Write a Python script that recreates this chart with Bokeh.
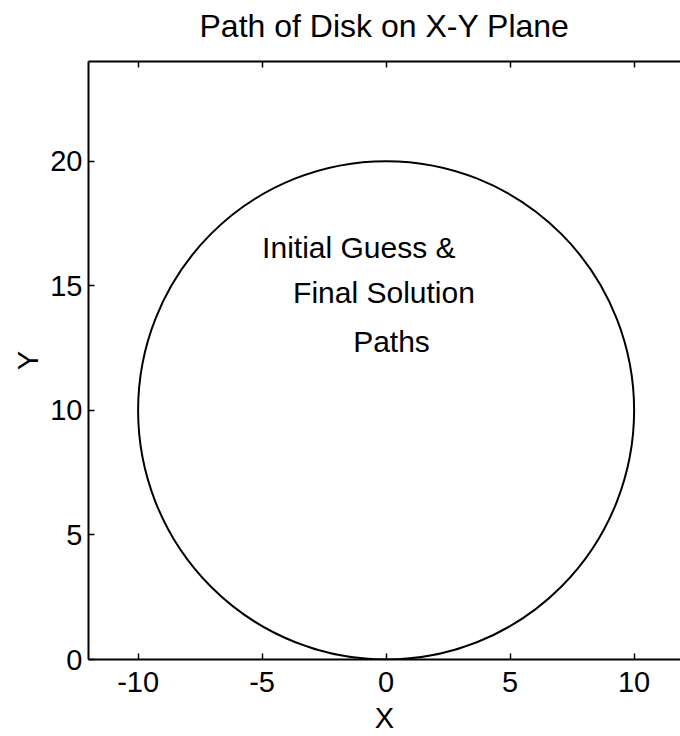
from bokeh.plotting import figure
from bokeh.models import Range1d, LinearAxis, FixedTicker, ColumnDataSource
from bokeh.core.properties import value
from bokeh.embed import file_html
from bokeh.resources import INLINE

FONT = "Liberation Sans"

# data
title_text = "Path of Disk on X-Y Plane"
circle_cx = [0.0]
circle_cy = [10.0]
circle_diam = [20.0]

x_ticks = [-10, -5, 0, 5, 10]
y_ticks = [0, 5, 10, 15, 20]
x_tick_labels = ["-10", "-5", "0", "5", "10"]
y_tick_labels = ["0", "5", "10", "15", "20"]

note_text = ["Initial Guess &", "Final Solution", "Paths"]
note_x = [-5.0, -3.75, -1.33]
note_y = [16.55, 14.74, 12.78]

p = figure(width=680, height=736, output_backend="svg", toolbar_location=None,
           x_range=Range1d(-12, 11.87), y_range=Range1d(0, 24),
           x_axis_location=None, y_axis_location=None,
           min_border_left=88, min_border_right=0, min_border_top=61, min_border_bottom=76)
p.outline_line_color = None
p.grid.visible = False
p.background_fill_color = "white"
p.border_fill_color = "white"


def style_axis(ax, ticks, labels=None):
    ax.ticker = FixedTicker(ticks=ticks)
    ax.axis_line_color = "black"
    ax.axis_line_width = 2
    ax.major_tick_in = 6
    ax.major_tick_out = 0
    ax.major_tick_line_width = 1.5
    ax.minor_tick_line_color = None
    ax.major_label_text_font = FONT
    if labels is not None:
        ax.major_label_overrides = {t: s for t, s in zip(ticks, labels)}
        ax.major_label_text_font_size = "29px"
        ax.major_label_text_color = "black"
    else:
        ax.major_label_text_font_size = "1px"
        ax.major_label_text_color = None
    ax.axis_label_text_font = FONT
    ax.axis_label_text_font_size = "29px"
    ax.axis_label_text_font_style = "normal"
    ax.axis_label_text_color = "black"


xb = LinearAxis(axis_label="X")
style_axis(xb, x_ticks, x_tick_labels)
xb.major_label_standoff = 12
xb.axis_label_standoff = 7
p.add_layout(xb, "below")

yl = LinearAxis(axis_label="Y")
style_axis(yl, y_ticks, y_tick_labels)
yl.major_label_standoff = 6
yl.axis_label_standoff = 3
p.add_layout(yl, "left")

# top frame edge with inward ticks; chart title carried as its label
xt = LinearAxis(axis_label=title_text)
style_axis(xt, x_ticks)
xt.major_label_standoff = 0
xt.axis_label_text_font_size = "32px"
xt.axis_label_standoff = 18
p.add_layout(xt, "above")

p.ellipse(x=circle_cx, y=circle_cy, width=circle_diam, height=circle_diam,
          fill_color=None, line_color="black", line_width=2)

src = ColumnDataSource(dict(x=note_x, y=note_y, t=note_text))
p.text(x="x", y="y", text="t", source=src, text_font=value(FONT),
       text_font_size="30px", text_align="left", text_baseline="middle",
       text_color="black")

open("out.html", "w").write(file_html(p, INLINE))
